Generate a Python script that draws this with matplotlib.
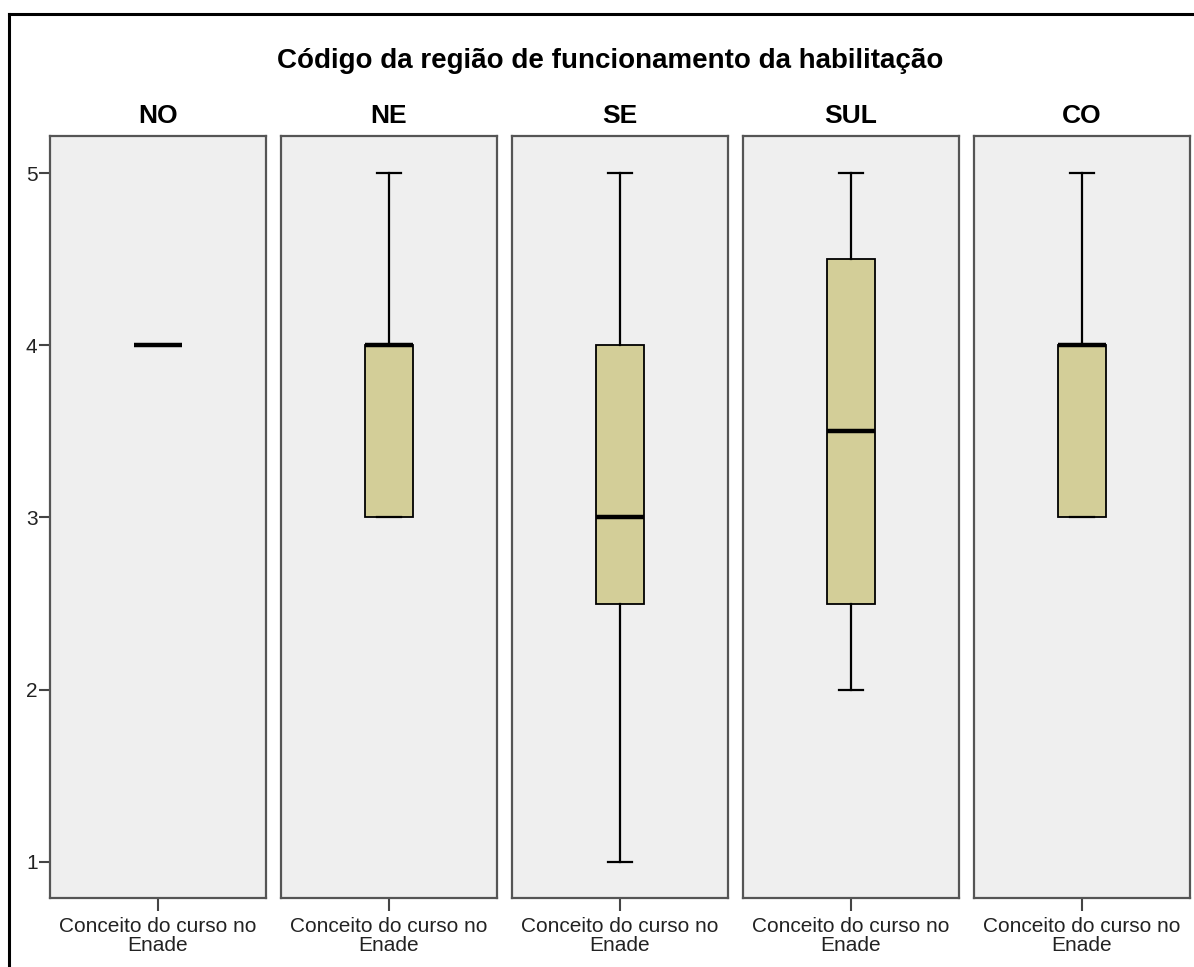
import matplotlib.pyplot as plt
from matplotlib.lines import Line2D

# dados (boxplot por região)
regioes = ['NO', 'NE', 'SE', 'SUL', 'CO']
minimos = [4, 3, 1, 2, 3]
q1 = [4, 3, 2.5, 2.5, 3]
medianas = [4, 4, 3, 3.5, 4]
q3 = [4, 4, 4, 4.5, 4]
maximos = [4, 5, 5, 5, 5]
yticks = [1, 2, 3, 4, 5]
rotulo_x = 'Conceito do curso no\nEnade'
titulo = 'Código da região de funcionamento da habilitação'

plt.rcParams['font.family'] = ['Liberation Sans', 'DejaVu Sans']

W, H = 1194, 967
fig = plt.figure(figsize=(W / 100, H / 100), dpi=100)

# moldura externa (só topo e esquerda visíveis)
fig.add_artist(Line2D([9 / W, 9 / W], [0, 1 - 14 / H], color='black', lw=2.2, transform=fig.transFigure))
fig.add_artist(Line2D([9 / W, 1193 / W], [1 - 14 / H, 1 - 14 / H], color='black', lw=2.2, transform=fig.transFigure))

fig.text(610 / W, 1 - 61 / H, titulo, ha='center', va='center', fontsize=20, fontweight='bold')

for i, reg in enumerate(regioes):
    left = (50 + i * 231) / W
    ax = fig.add_axes([left, 1 - 898 / H, 216 / W, (898 - 136) / H])
    ax.set_facecolor('#efefef')
    stats = [{'whislo': minimos[i], 'q1': q1[i], 'med': medianas[i],
              'q3': q3[i], 'whishi': maximos[i], 'fliers': []}]
    ax.bxp(stats, positions=[0.5], widths=0.225, capwidths=0.11, patch_artist=True,
           showfliers=False,
           boxprops=dict(facecolor='#d3ce98', edgecolor='black', linewidth=1.3),
           whiskerprops=dict(color='black', linewidth=1.6),
           capprops=dict(color='black', linewidth=1.6),
           medianprops=dict(color='black', linewidth=3.2, solid_capstyle='butt'))
    ax.set_xlim(0, 1)
    ax.set_ylim(0.79, 5.215)
    ax.set_xticks([0.5])
    ax.set_xticklabels([rotulo_x], fontsize=15, linespacing=0.95, color='#222222')
    ax.tick_params(axis='x', length=9, width=1.5, color='#444444', pad=5)
    if i == 0:
        ax.set_yticks(yticks)
        ax.set_yticklabels([str(v) for v in yticks], fontsize=15, color='#222222')
        ax.tick_params(axis='y', length=8, width=1.5, color='#444444', pad=1)
    else:
        ax.set_yticks([])
    for sp in ax.spines.values():
        sp.set_color('#555555')
        sp.set_linewidth(1.6)
    fig.text((50 + i * 231 + 108) / W, 1 - 116 / H, reg, ha='center', va='center',
             fontsize=19, fontweight='bold')

fig.savefig('out.png', dpi=100)
